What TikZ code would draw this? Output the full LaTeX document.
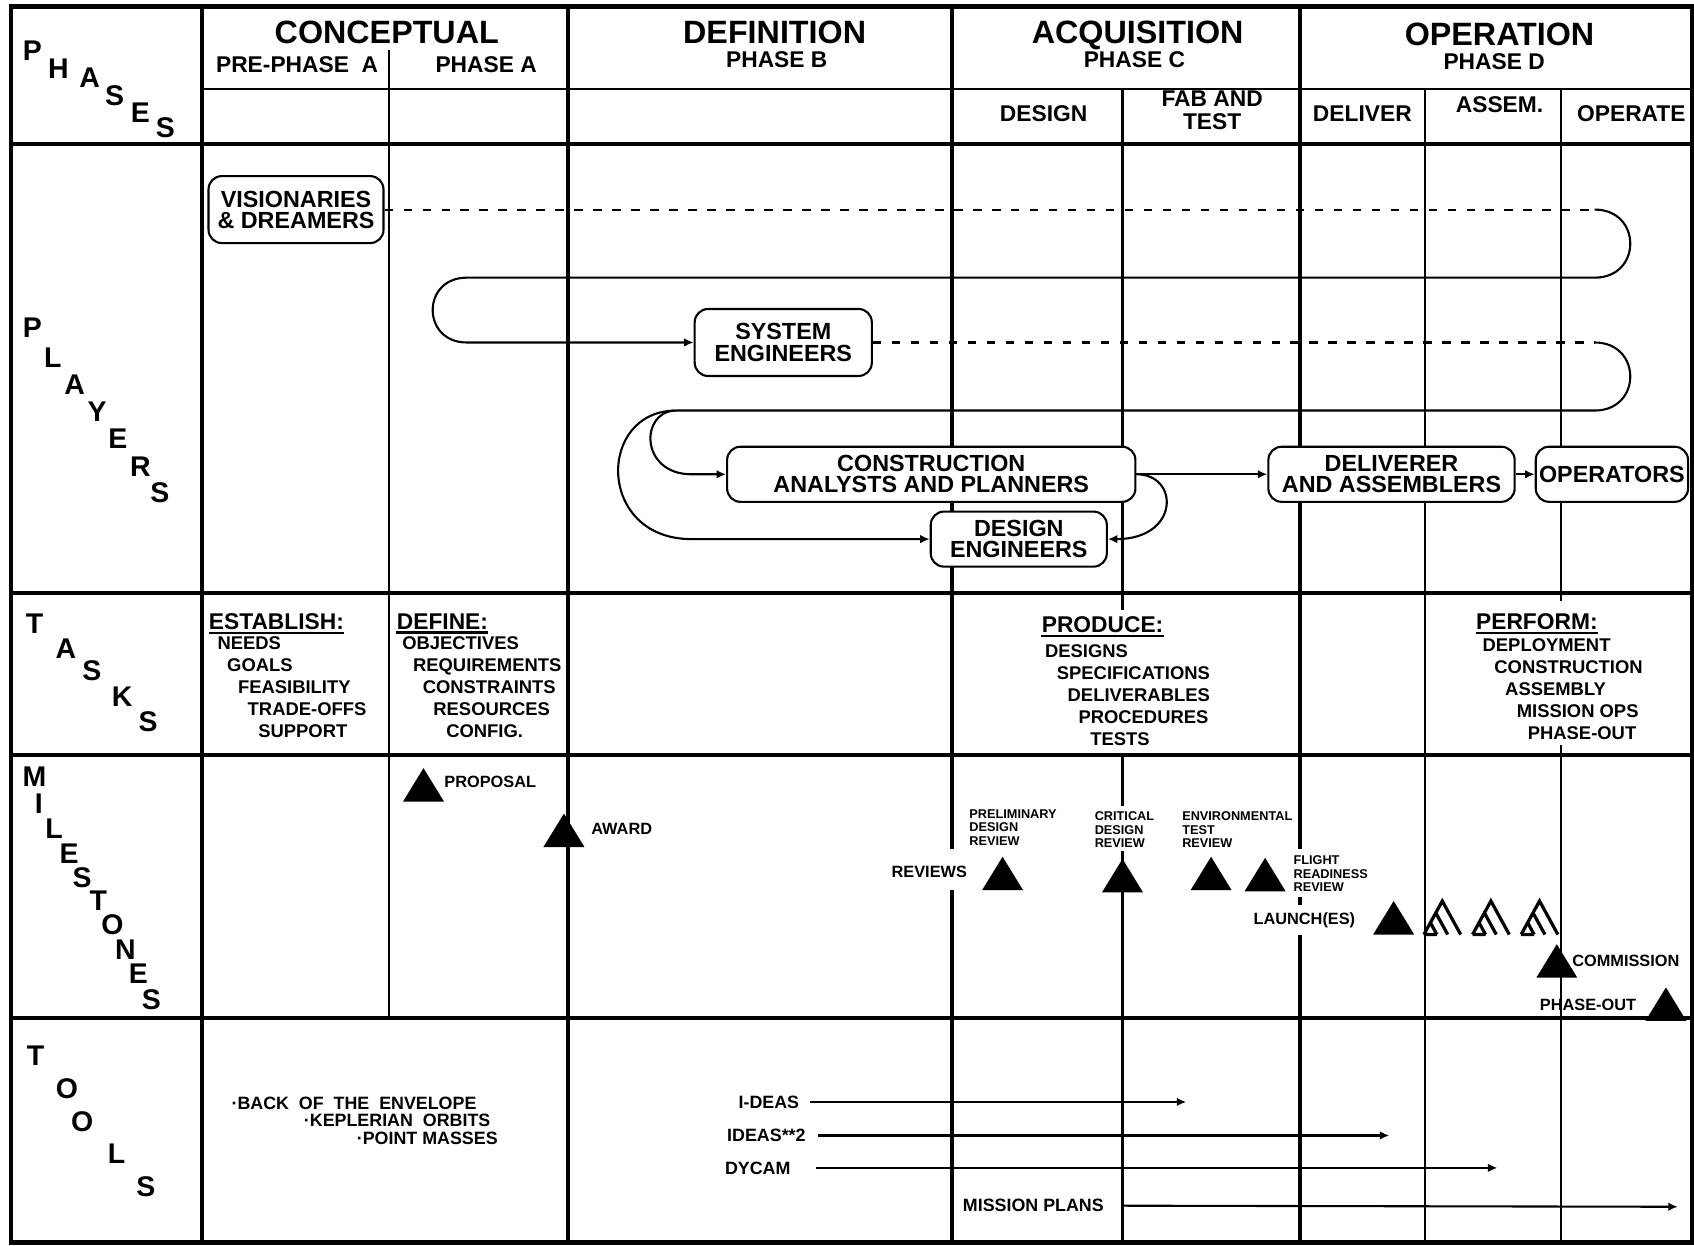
\documentclass[tikz,border=0pt]{standalone}
\usepackage{fontspec}
\setmainfont{Liberation Sans}
\usetikzlibrary{arrows.meta}
\tikzset{
  gthick/.style={line width=2.3pt},
  gthin/.style={line width=1.1pt},
  rowltr/.style={font=\bfseries\fontsize{15}{15}\selectfont, inner sep=0pt,
    text depth=0pt},
  phbig/.style={font=\bfseries\fontsize{17}{17}\selectfont, inner sep=0pt,
    text depth=0pt},
  phsub/.style={font=\bfseries\fontsize{12}{12}\selectfont, inner sep=0pt,
    align=center},
  plbox/.style={draw, rounded corners=7pt, line width=1.1pt, fill=white,
    font=\bfseries\fontsize{12.3}{11.2}\selectfont, inner sep=1pt,
    align=center},
  taskhd/.style={font=\bfseries\fontsize{12}{12}\selectfont, inner sep=0pt,
    anchor=west},
  tasklist/.style={font=\bfseries\fontsize{9.7}{11.6}\selectfont,
    inner sep=0pt, anchor=north west, align=left},
  mlabel/.style={font=\bfseries\fontsize{8.6}{9}\selectfont, inner sep=0pt,
    anchor=west, text depth=0pt},
  mtiny/.style={font=\bfseries\fontsize{6.7}{7.1}\selectfont, inner sep=0pt,
    anchor=west, align=left},
  toollbl/.style={font=\bfseries\fontsize{9.4}{10}\selectfont, inner sep=0pt,
    text depth=0pt},
  plline/.style={line width=1.1pt},
  pldash/.style={line width=1.1pt, dash pattern=on 4.5pt off 5.5pt},
  plarr/.style={-{Latex[length=5pt,width=4.5pt]}, line width=1.1pt},
  mstone/.pic={\fill (-19,31) -- (0,0) -- (19,31) -- cycle;},
  mhatch/.pic={
    \draw[line width=1.7pt] (-17,31) -- (0,0) -- (17,31);
    \draw[line width=1.7pt] (-6,11) -- (5,31) (-11,20) -- (-5,31)
      (-17,31) -- (-5,31);},
}

\begin{document}
\begin{tikzpicture}[x=0.02cm, y=-0.02cm]
  \useasboundingbox (0,0) rectangle (1568,1153);
  % Frame and row rules
  \draw[gthick] (10,6) rectangle (1566,1150);
  \draw[gthin]  (187,82) -- (1566,82);
  \draw[gthick] (10,133) -- (1566,133);
  \draw[gthick] (10,549) -- (1566,549);
  \draw[gthick] (10,699) -- (1566,699);
  \draw[gthick] (10,942) -- (1566,942);
  % Column rules
  \draw[gthick] (187,6) -- (187,1150);
  \draw[gthin]  (360,46) -- (360,942);
  \draw[gthick] (526,6) -- (526,1150);
  \draw[gthick] (881,6) -- (881,786) (881,824) -- (881,1150);
  \draw[gthin]  (1039,82) -- (1039,565) (1039,699) -- (1039,746)
                (1039,788) -- (1039,1150);
  \draw[gthick] (1203,6) -- (1203,786) (1203,830) -- (1203,838)
                (1203,865) -- (1203,1150);
  \draw[gthin]  (1319,82) -- (1319,1150);
  \draw[gthin]  (1445,82) -- (1445,556) (1445,690) -- (1445,1150);

  % Row titles, one letter per step
  \foreach \ch/\lx/\ly [count=\i] in {P/30/47, H/54/64, A/83/72, S/106/88,
      E/130/104, S/153/118}
    \node[rowltr] at (\lx,\ly) (phl\i) {\ch};
  \foreach \ch/\lx/\ly [count=\i] in {P/30/303, L/49/331, A/69/356,
      Y/90/381, E/109/406, R/130/432, S/148/456}
    \node[rowltr] at (\lx,\ly) (pll\i) {\ch};
  \foreach \ch/\lx/\ly [count=\i] in {T/32/577, A/61/600, S/85/621,
      K/113/645, S/137/668}
    \node[rowltr] at (\lx,\ly) (tkl\i) {\ch};
  \foreach \ch/\lx/\ly [count=\i] in {M/32/719, I/36/744, L/50/767,
      E/64/790, S/76/812, T/91/834, O/104/856, N/116/879, E/128/901,
      S/140/925}
    \node[rowltr] at (\lx,\ly) (msl\i) {\ch};
  \foreach \ch/\lx/\ly [count=\i] in {T/33/977, O/62/1008, O/76/1038,
      L/108/1068, S/135/1098}
    \node[rowltr] at (\lx,\ly) (tol\i) {\ch};

  % Phase headings
  \node[phbig] at (358,30)  (concep) {CONCEPTUAL};
  \node[phsub] at (275,60)  (prea)   {PRE-PHASE~~A};
  \node[phsub] at (450,60)  (pha)    {PHASE A};
  \node[phbig] at (717,30)  (defin)  {DEFINITION};
  \node[phsub] at (719,55)  (phb)    {PHASE B};
  \node[phbig] at (1053,30) (acqui)  {ACQUISITION};
  \node[phsub] at (1050,55) (phc)    {PHASE C};
  \node[phbig] at (1388,32) (opera)  {OPERATION};
  \node[phsub] at (1383,57) (phd)    {PHASE D};
  \node[phsub] at (966,105)  (sdes)  {DESIGN};
  \node[phsub] at (1122,102) (sfab)  {FAB AND\\TEST};
  \node[phsub] at (1261,105) (sdel)  {DELIVER};
  \node[phsub] at (1388,97)  (sasm)  {ASSEM.};
  \node[phsub] at (1510,105) (sope)  {OPERATE};

  % Players
  \node[plbox, minimum width=3.24cm, minimum height=1.24cm]
    at (274,194) (vis) {VISIONARIES\\\& DREAMERS};
  \node[plbox, minimum width=3.28cm, minimum height=1.24cm]
    at (725,317) (syseng) {SYSTEM\\ENGINEERS};
  \node[plbox, minimum width=7.56cm, minimum height=1.02cm]
    at (862,439) (constr) {CONSTRUCTION\\ANALYSTS AND PLANNERS};
  \node[plbox, minimum width=3.26cm, minimum height=1.02cm]
    at (943,499) (deseng) {DESIGN\\ENGINEERS};
  \node[plbox, minimum width=4.56cm, minimum height=1.02cm]
    at (1288,439) (deliv) {DELIVERER\\AND ASSEMBLERS};
  \node[plbox, minimum width=2.82cm, minimum height=1.02cm]
    at (1492,439) (oper) {OPERATORS};

  % Hand-overs between players
  \draw[pldash] (vis.east) -- (1476,194);
  \draw[plarr] (1476,194) .. controls (1520,194) and (1520,257) .. (1476,257)
    -- (432,257) .. controls (390,257) and (390,317) .. (432,317)
    -- (syseng.west);
  \draw[pldash] (syseng.east) -- (1476,317);
  \draw[plline] (1476,317) .. controls (1520,317) and (1520,380) .. (1476,380)
    -- (626,380);
  \draw[plarr] (626,380) .. controls (592,380) and (592,439) .. (640,439)
    -- (constr.west);
  \draw[plarr] (626,380) .. controls (552,380) and (552,499) .. (640,499)
    -- (deseng.west);
  \draw[plarr] (constr.east) -- (deliv.west);
  \draw[plarr] (constr.east) .. controls (1092,439) and (1092,499) ..
    (deseng.east);
  \draw[plarr] (deliv.east) -- (oper.west);

  % Tasks
  \node[taskhd] at (193,575) (esth) {ESTABLISH:};
  \node[tasklist] at (201,589) (estl) {NEEDS\\\hspace*{5.1pt}GOALS\\
    \hspace*{10.8pt}FEASIBILITY\\\hspace*{15.9pt}TRADE-OFFS\\
    \hspace*{21.5pt}SUPPORT};
  \node[taskhd] at (367,575) (defh) {DEFINE:};
  \node[tasklist] at (372,589) (defl) {OBJECTIVES\\\hspace*{5.7pt}REQUIREMENTS\\
    \hspace*{10.8pt}CONSTRAINTS\\\hspace*{16.4pt}RESOURCES\\
    \hspace*{23.2pt}CONFIG.};
  \node[taskhd] at (964,578) (proh) {PRODUCE:};
  \node[tasklist] at (967,596) (prol) {DESIGNS\\\hspace*{6.2pt}SPECIFICATIONS\\
    \hspace*{11.9pt}DELIVERABLES\\\hspace*{17.6pt}PROCEDURES\\
    \hspace*{23.8pt}TESTS};
  \node[taskhd] at (1366,575) (perh) {PERFORM:};
  \node[tasklist] at (1372,591) (perl) {DEPLOYMENT\\\hspace*{6.2pt}CONSTRUCTION\\
    \hspace*{11.9pt}ASSEMBLY\\\hspace*{18pt}MISSION OPS\\
    \hspace*{23.8pt}PHASE-OUT};
  \draw[plline] ([yshift=-1.6pt]esth.south west) -- ([yshift=-1.6pt]esth.south east);
  \draw[plline] ([yshift=-1.6pt]defh.south west) -- ([yshift=-1.6pt]defh.south east);
  \draw[plline] ([yshift=-1.6pt]proh.south west) -- ([yshift=-1.6pt]proh.south east);
  \draw[plline] ([yshift=-1.6pt]perh.south west) -- ([yshift=-1.6pt]perh.south east);

  % Milestones
  \pic at (392,711)  {mstone};
  \pic at (522,753)  {mstone};
  \pic at (928,793)  {mstone};
  \pic at (1039,795) {mstone};
  \pic at (1121,793) {mstone};
  \pic at (1171,794) {mstone};
  \pic at (1290,834) {mstone};
  \pic at (1335,834) {mhatch};
  \pic at (1380,834) {mhatch};
  \pic at (1425,834) {mhatch};
  \pic at (1441,874) {mstone};
  \pic at (1542,914) {mstone};
  \node[mlabel] at (411,724)  (prop) {PROPOSAL};
  \node[mlabel] at (547,767)  (awrd) {AWARD};
  \node[mlabel] at (825,807)  (revw) {REVIEWS};
  \node[mtiny]  at (897,766)  (pdr)  {PRELIMINARY\\DESIGN\\REVIEW};
  \node[mtiny]  at (1013,768) (cdr)  {CRITICAL\\DESIGN\\REVIEW};
  \node[mtiny]  at (1094,768) (etr)  {ENVIRONMENTAL\\TEST\\REVIEW};
  \node[mtiny]  at (1197,809) (frr)  {FLIGHT\\READINESS\\REVIEW};
  \node[mlabel] at (1160,850) (lnch) {LAUNCH(ES)};
  \node[mlabel] at (1455,889) (comm) {COMMISSION};
  \node[mlabel] at (1425,930) (phout) {PHASE-OUT};

  % Tools
  \node[toollbl, anchor=west] at (214,1021) (bote)
    {·BACK\ \ OF\ \ THE\ \ ENVELOPE};
  \node[toollbl, anchor=west] at (281,1037) (kepl) {·KEPLERIAN\ \ ORBITS};
  \node[toollbl, anchor=west] at (330,1054) (pmas) {·POINT MASSES};
  \node[toollbl, anchor=east] at (740,1020)  (ideas)  {I-DEAS};
  \node[toollbl, anchor=east] at (746,1051)  (ideast) {IDEAS**2};
  \node[toollbl, anchor=east] at (732,1081)  (dycam)  {DYCAM};
  \node[toollbl, anchor=east] at (1022,1116) (mplan)  {MISSION PLANS};
  \coordinate (ideasEnd)  at (1098,1020);
  \coordinate (ideastEnd) at (1286,1051);
  \coordinate (dycamEnd)  at (1386,1081);
  \coordinate (mplanEnd)  at (1553,1117);
  \draw[plarr] ([xshift=5.7pt]ideas.east)  -- (ideasEnd);
  \draw[plarr] ([xshift=6.2pt]ideast.east) -- (ideastEnd);
  \draw[plarr] ([xshift=13pt]dycam.east)   -- (dycamEnd);
  \draw[plarr] ([xshift=10pt]mplan.east)   -- (mplanEnd);
\end{tikzpicture}
\end{document}
